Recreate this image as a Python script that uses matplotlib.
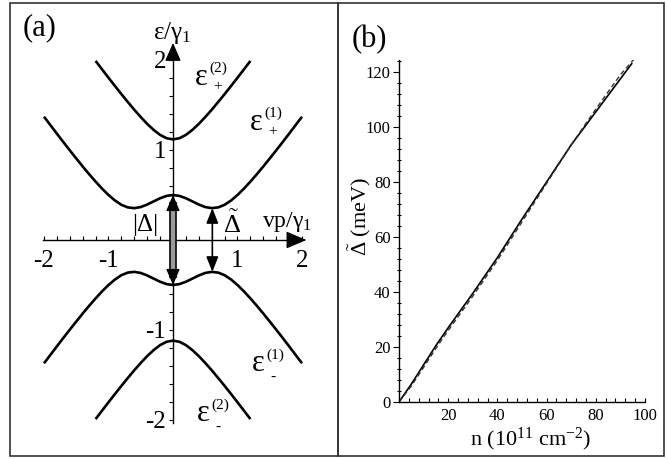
import numpy as np
import matplotlib
matplotlib.use("Agg")
import matplotlib.pyplot as plt
from matplotlib.patches import Rectangle
from matplotlib.ticker import MultipleLocator, FixedLocator

plt.rcParams['font.family'] = ['Liberation Serif', 'DejaVu Serif']
plt.rcParams['mathtext.fontset'] = 'custom'
plt.rcParams['mathtext.rm'] = 'Liberation Serif'
plt.rcParams['mathtext.it'] = 'Liberation Serif:italic'
plt.rcParams['mathtext.bf'] = 'Liberation Serif:bold'
plt.rcParams['axes.unicode_minus'] = False

# ---------------- data: panel (a) ----------------
p_half = [0.0, 0.1, 0.2, 0.3, 0.4, 0.5, 0.6, 0.7, 0.8, 0.9, 1.0,
          1.1, 1.2, 1.3, 1.4, 1.5, 1.6, 1.7, 1.8, 1.9, 2.0]
e1_half = [0.500, 0.490, 0.464, 0.429, 0.394, 0.366, 0.354, 0.362, 0.391, 0.439, 0.500,
           0.571, 0.649, 0.731, 0.817, 0.906, 0.996, 1.088, 1.181, 1.276, 1.370]
p2_half = [0.0, 0.1, 0.2, 0.3, 0.4, 0.5, 0.6, 0.7, 0.8, 0.9, 1.0, 1.1, 1.2]
e2_half = [1.118, 1.131, 1.168, 1.223, 1.290, 1.366, 1.447, 1.533, 1.621, 1.711, 1.803, 1.896, 1.990]
x_ticks_a = [-2, -1, 1, 2]
x_ticklabels_a = ['-2', '-1', '1', '2']
y_ticks_a = [-2, -1, 1, 2]
y_ticklabels_a = ['-2', '-1', '1', '2']
gap_abs = 0.5          # |Delta|/2
gap_tilde = 0.354      # Delta-tilde/2
p_tilde = 0.61
band_sup = ['(2)', '(1)', '(1)', '(2)']
band_sub = ['+', '+', '-', '-']

# ---------------- data: panel (b) ----------------
n_solid = [0, 5, 10, 15, 20, 30, 40, 50, 60, 70, 80, 90, 94.6]
d_solid = [0, 6.5, 13.5, 20.5, 27, 39.5, 52.5, 66.5, 80, 93.5, 105.5, 117.5, 123]
n_dash = [0, 5, 10, 15, 20, 30, 40, 50, 60, 70, 80, 90, 95.5]
d_dash = [0, 5.8, 12.6, 19.5, 26, 38.5, 51.5, 65.5, 79.5, 93.5, 106.5, 119, 124.6]
x_ticks_b = [20, 40, 60, 80, 100]
y_ticks_b = [0, 20, 40, 60, 80, 100, 120]

W, H = 667, 459
fig = plt.figure(figsize=(W / 100, H / 100), dpi=100)


def fr(x0, y0, x1, y1):
    return [x0 / W, 1 - y1 / H, (x1 - x0) / W, (y1 - y0) / H]


# frames
for (x0, y0, x1, y1) in [(10, 3, 338, 456), (338, 3, 664, 456)]:
    fig.add_artist(Rectangle((x0 / W, 1 - y1 / H), (x1 - x0) / W, (y1 - y0) / H,
                             transform=fig.transFigure, fill=False,
                             edgecolor='#333333', lw=1.2, zorder=0))

# ---------------- panel (a) ----------------
ax = fig.add_axes(fr(10, 3, 338, 456))
ax.patch.set_alpha(0)
x0p, ux = 173, 64.5
y0p, uy = 240, 90


def dx(px):
    return (px - x0p) / ux


def dy(py):
    return (y0p - py) / uy


ax.set_xlim(dx(10), dx(338))
ax.set_ylim(dy(456), dy(3))

ph = np.array(p_half)
p_full = np.concatenate([-ph[::-1], ph[1:]])
e1 = np.array(e1_half)
e1_full = np.concatenate([e1[::-1], e1[1:]])
p2h = np.array(p2_half)
p2_full = np.concatenate([-p2h[::-1], p2h[1:]])
e2 = np.array(e2_half)
e2_full = np.concatenate([e2[::-1], e2[1:]])

lwc = 1.9
ax.plot(p_full, e1_full, color='black', lw=lwc, solid_capstyle='butt')
ax.plot(p_full, -e1_full, color='black', lw=lwc, solid_capstyle='butt')
ax.plot(p2_full, e2_full, color='black', lw=lwc, solid_capstyle='butt')
ax.plot(p2_full, -e2_full, color='black', lw=lwc, solid_capstyle='butt')

for s in ['top', 'right']:
    ax.spines[s].set_visible(False)
ax.spines['left'].set_position(('data', 0))
ax.spines['bottom'].set_position(('data', 0))
ax.spines['left'].set_bounds(-2.03, 2.05)
ax.spines['bottom'].set_bounds(-2.02, 1.95)
ax.spines['left'].set_linewidth(1.0)
ax.spines['bottom'].set_linewidth(1.0)

ax.set_xticks(x_ticks_a)
ax.set_xticklabels(x_ticklabels_a)
ax.set_yticks(y_ticks_a)
ax.set_yticklabels(y_ticklabels_a)
minor_a = [round(-2 + 0.2 * i, 2) for i in range(21)]
ax.xaxis.set_minor_locator(FixedLocator(minor_a))
ax.yaxis.set_minor_locator(FixedLocator(minor_a))
ax.tick_params(axis='x', which='both', direction='in', length=3, width=0.8,
               labelsize=18, pad=7)
ax.tick_params(axis='y', which='both', direction='out', length=3, width=0.8,
               labelsize=18, pad=2)

# axis arrowheads
ax.annotate('', xy=(2.07, 0), xytext=(1.9, 0),
            arrowprops=dict(arrowstyle='-|>,head_length=0.9,head_width=0.38',
                            color='black', lw=1, shrinkA=0, shrinkB=0,
                            mutation_scale=14))
ax.annotate('', xy=(0, 2.19), xytext=(0, 2.0),
            arrowprops=dict(arrowstyle='-|>,head_length=0.8,head_width=0.35',
                            color='black', lw=1, shrinkA=0, shrinkB=0,
                            mutation_scale=14))

# |Delta| arrow (grey, outlined)
ax.plot([0, 0], [-gap_abs + 0.08, gap_abs - 0.08], color='black', lw=5.5,
        solid_capstyle='butt', zorder=4)
ax.plot([0, 0], [-gap_abs + 0.08, gap_abs - 0.08], color='#9a9a9a', lw=3.2,
        solid_capstyle='butt', zorder=5)
for sgn in (1, -1):
    ax.annotate('', xy=(0, sgn * gap_abs), xytext=(0, sgn * (gap_abs - 0.12)),
                arrowprops=dict(arrowstyle='-|>,head_length=0.7,head_width=0.3',
                                color='black', lw=1, shrinkA=0, shrinkB=0,
                                mutation_scale=14), zorder=6)

# Delta-tilde arrow
ax.annotate('', xy=(p_tilde, gap_tilde), xytext=(p_tilde, -gap_tilde),
            arrowprops=dict(arrowstyle='<|-|>,head_length=0.7,head_width=0.28',
                            color='black', lw=1.2, shrinkA=0, shrinkB=0,
                            mutation_scale=13))

# labels panel (a)
ax.text(dx(40), dy(28), '(a)', fontsize=22, ha='center', va='center')
ax.text(dx(172), dy(33), r'$\mathrm{ε/γ}_1$', fontsize=18, ha='center', va='center')
ax.text(dx(287), dy(222), r'$\mathrm{vp/γ}_1$', fontsize=17, ha='center', va='center')
ax.text(dx(145), dy(225), '|Δ|', fontsize=18, ha='center', va='center')
ax.text(dx(232), dy(224), r'$\tilde{\Delta}$', fontsize=19, ha='center', va='center')

# band labels: (eps left, eps baseline, sup left, sup base, sub left, sub base) in px
band_pos = [(195, 85, 209, 72, 213, 90),
            (250, 130, 264, 117, 268, 135),
            (252, 371, 266, 359, 270, 381),
            (197, 421, 211, 409, 215, 431)]
for (ex, ey, sx, sy, bx_, by_), sup, sub in zip(band_pos, band_sup, band_sub):
    ax.text(dx(ex), dy(ey), 'ε', fontsize=22, ha='left', va='baseline')
    ax.text(dx(sx), dy(sy), sup, fontsize=11, ha='left', va='baseline')
    ax.text(dx(bx_), dy(by_), sub, fontsize=11, ha='left', va='baseline')

# ---------------- panel (b) ----------------
bx = fig.add_axes(fr(399, 59.6, 645, 402))
bx.patch.set_alpha(0)
bx.set_xlim(0, 100)
bx.set_ylim(0, 124.5)
bx.plot(n_solid, d_solid, color='black', lw=1.2)
bx.plot(n_dash, d_dash, color='#333333', lw=1.0, dashes=(3.5, 2.2))
for s in ['top', 'right']:
    bx.spines[s].set_visible(False)
bx.spines['left'].set_linewidth(1.0)
bx.spines['bottom'].set_linewidth(1.0)
bx.set_xticks(x_ticks_b)
bx.set_yticks(y_ticks_b)
bx.xaxis.set_minor_locator(MultipleLocator(4))
bx.yaxis.set_minor_locator(MultipleLocator(4))
bx.tick_params(axis='x', which='both', direction='in', length=3, width=0.8,
               labelsize=12, pad=4)
bx.tick_params(axis='y', which='major', direction='out', length=4, width=0.8,
               labelsize=12, pad=2)
bx.tick_params(axis='y', which='minor', direction='inout', length=3, width=0.8)
bx.set_xlabel(r'n (10$^{11}$ cm$^{-2}$)', fontsize=16)
bx.xaxis.set_label_coords((531 - 399) / (645 - 399), -(426 - 402) / (402 - 59.6))
bx.set_ylabel(r'$\tilde{\Delta}$ (meV)', fontsize=16)
bx.yaxis.set_label_coords((373 - 399) / (645 - 399), (402 - 216) / (402 - 59.6))
fig.text(369 / W, 1 - 40 / H, '(b)', fontsize=22, ha='center', va='center')

fig.savefig('out.png', dpi=100)
